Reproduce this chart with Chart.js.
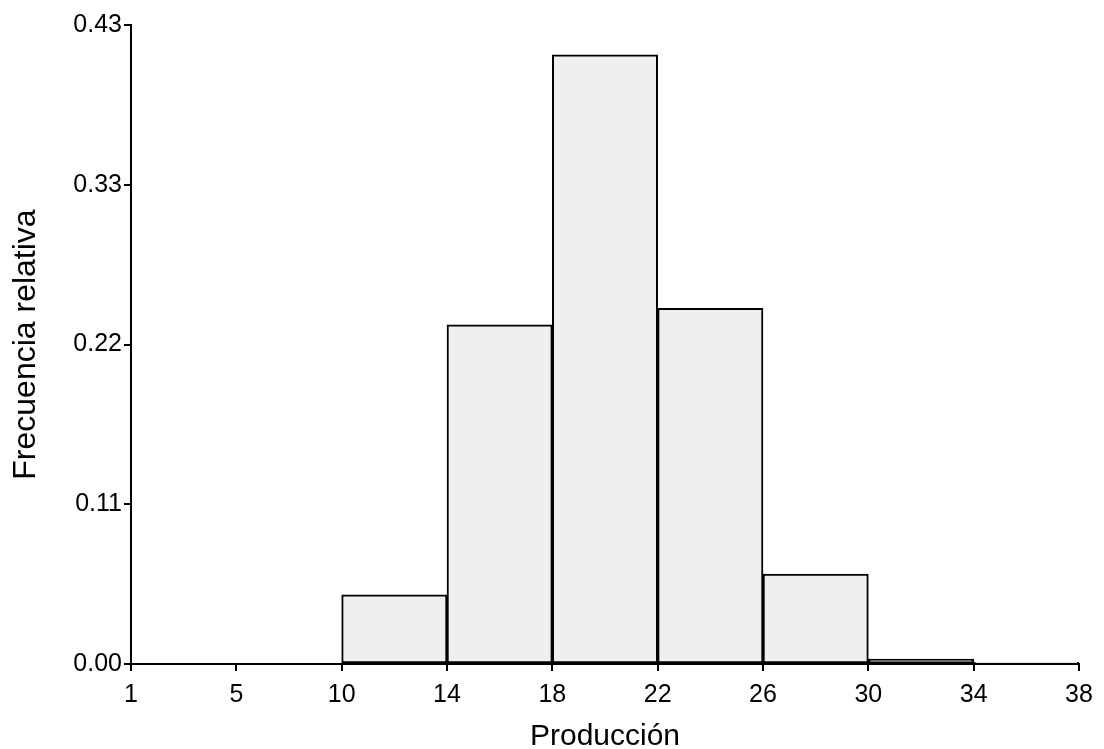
<!DOCTYPE html>
<html>
<head>
<meta charset="utf-8">
<script src="https://cdn.jsdelivr.net/npm/chart.js@4"></script>
<style>
  html, body { margin: 0; padding: 0; background: #fff; }
  #wrap { width: 1104px; height: 749px; }
</style>
</head>
<body>
<div id="wrap"><canvas id="histCanvas"></canvas></div>
<script>
// eje X: marcas equiespaciadas con estas etiquetas
const tickLabels = [1, 5, 10, 14, 18, 22, 26, 30, 34, 38];
// clases del histograma (límite inferior, superior) y frecuencia relativa
const binStarts = [10, 14, 18, 22, 26, 30, 34];
const binEnds = [14, 18, 22, 26, 30, 34, 38];
const relFreq = [0.0469, 0.2304, 0.4138, 0.2416, 0.0611, 0.0034, 0.0012];
const yMax = 0.434;
const yTickCount = 4;

const bars = binStarts.map((s, i) => ({
  x: tickLabels.indexOf(s) + 0.5,
  y: relFreq[i],
  label: s + '-' + binEnds[i]
}));

const ctx = document.getElementById("histCanvas").getContext("2d");
const chart = new Chart(ctx, {
  type: 'bar',
  data: {
    datasets: [{
      label: 'Frecuencia relativa',
      data: bars,
      backgroundColor: '#efefef',
      borderColor: '#000',
      borderWidth: 2,
      borderSkipped: false,
      barPercentage: 1,
      categoryPercentage: 1
    }]
  },
  options: {
    responsive: true,
    maintainAspectRatio: false,
    animation: false,
    layout: { padding: { top: 25, right: 25, left: 0, bottom: 0 } },
    plugins: { legend: { display: false }, tooltip: { enabled: false } },
    scales: {
      x: {
        type: 'linear',
        offset: false,
        min: 0,
        max: tickLabels.length - 1,
        afterBuildTicks: (scale) => {
          scale.ticks = tickLabels.map((_, i) => ({ value: i }));
        },
        afterFit: (scale) => { scale.height = 749 - 664; },
        ticks: {
          color: '#000',
          font: { family: 'Liberation Sans', size: 25 },
          padding: 9,
          maxRotation: 0,
          autoSkip: false,
          callback: (v) => tickLabels[v]
        },
        grid: { drawOnChartArea: false, offset: false, color: '#000', tickLength: 7, lineWidth: 2 },
        border: { display: true, color: '#000', width: 2 },
        title: {
          display: true,
          text: 'Producción',
          color: '#000',
          font: { family: 'Liberation Sans', size: 30 },
          padding: { top: 0, bottom: -6 }
        }
      },
      y: {
        min: 0,
        max: yMax,
        afterBuildTicks: (scale) => {
          const t = [];
          for (let i = 0; i <= yTickCount; i++) t.push({ value: yMax * i / yTickCount });
          scale.ticks = t;
        },
        afterFit: (scale) => { scale.width = 131; },
        ticks: {
          color: '#000',
          font: { family: 'Liberation Sans', size: 25 },
          padding: 2,
          callback: (v) => v.toFixed(2)
        },
        grid: { drawOnChartArea: false, color: '#000', tickLength: 7, lineWidth: 2 },
        border: { display: true, color: '#000', width: 2 },
        title: {
          display: true,
          text: 'Frecuencia relativa',
          color: '#000',
          font: { family: 'Liberation Sans', size: 32 },
          padding: { top: 7, bottom: 0 }
        }
      }
    }
  }
});
</script>
</body>
</html>
